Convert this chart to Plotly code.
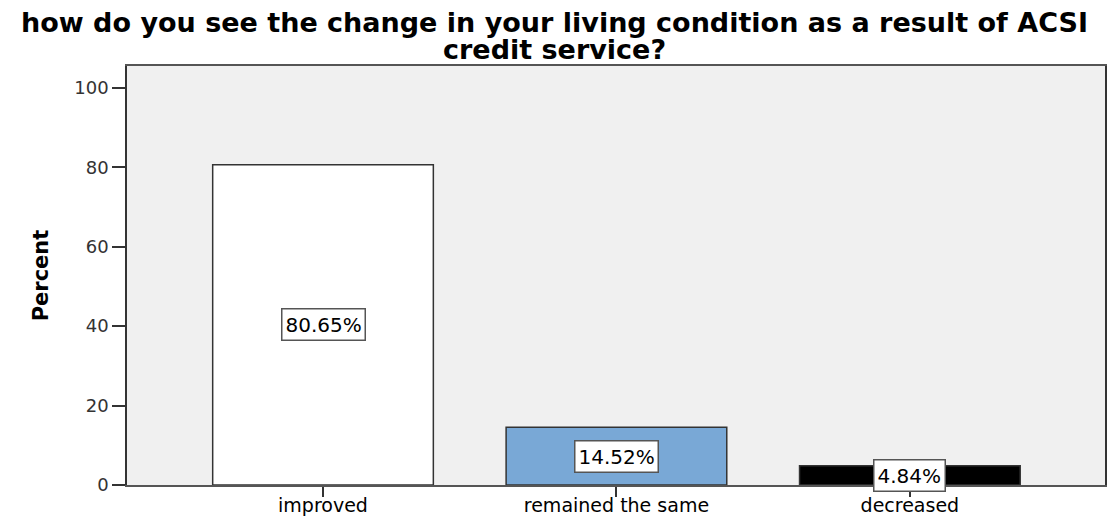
import plotly.graph_objects as go

# Survey responses: change in living condition after ACSI credit service
categories = ["improved", "remained the same", "decreased"]
percents = [80.65, 14.52, 4.84]
bar_colors = ["#FFFFFF", "#79A8D6", "#000000"]
y_ticks = [0, 20, 40, 60, 80, 100]
title_lines = [
    "how do you see the change in your living condition as a result of ACSI",
    "credit service?",
]

# Plot-area geometry in pixels
W, H = 1109, 516
M_L, M_R, M_T, M_B = 127, 4, 66, 30.5
plot_w = W - M_L - M_R
plot_h = H - M_T - M_B


def paper_x(px):
    return (px - M_L) / plot_w


def paper_y(py):
    return (H - M_B - py) / plot_h


fig = go.Figure()
fig.add_trace(go.Bar(
    x=categories,
    y=percents,
    width=0.752,
    marker=dict(color=bar_colors, line=dict(color="#333333", width=1.5)),
    hoverinfo="skip",
    showlegend=False,
))

# Boxed value labels, placed half-way up each bar
for cat, val in zip(categories, percents):
    fig.add_annotation(
        x=cat, y=val / 2, text=f"{val:.2f}%", showarrow=False,
        font=dict(family="DejaVu Sans", size=20, color="#000000"),
        bgcolor="#FFFFFF", bordercolor="#555555", borderwidth=1.5, borderpad=3,
        xanchor="center", yanchor="middle",
    )

# Two-line chart title, centred on the page
for line, py in zip(title_lines, [22, 49]):
    fig.add_annotation(
        xref="paper", yref="paper", x=paper_x(W / 2), y=paper_y(py),
        text=f"<b>{line}</b>", showarrow=False,
        font=dict(family="DejaVu Sans", size=27, color="#000000"),
        xanchor="center", yanchor="middle",
    )

fig.update_layout(
    width=W, height=H,
    margin=dict(l=M_L, r=M_R, t=M_T, b=M_B, autoexpand=False),
    paper_bgcolor="#FFFFFF",
    plot_bgcolor="#F0F0F0",
    bargap=0.25,
)

fig.update_xaxes(
    range=[-0.668, 2.665],
    automargin=False,
    showgrid=False, zeroline=False,
    showline=True, linecolor="#555555", linewidth=1.5, mirror=True,
    ticks="outside", ticklen=10, tickwidth=1.5, tickcolor="#333333",
    ticklabelstandoff=-8,
    tickfont=dict(family="DejaVu Sans", size=19, color="#000000"),
)
fig.update_yaxes(
    range=[0, 105.5],
    automargin=False,
    tickvals=y_ticks,
    showgrid=False, zeroline=False,
    showline=True, linecolor="#333333", linewidth=1.5, mirror=True,
    ticks="outside", ticklen=13, tickwidth=1.5, tickcolor="#333333",
    tickfont=dict(family="DejaVu Sans", size=18, color="#333333"),
    title=dict(text="Percent", standoff=20,
               font=dict(family="DejaVu Sans", size=21, color="#000000", weight="bold")),
)

fig.write_html("out.html")
